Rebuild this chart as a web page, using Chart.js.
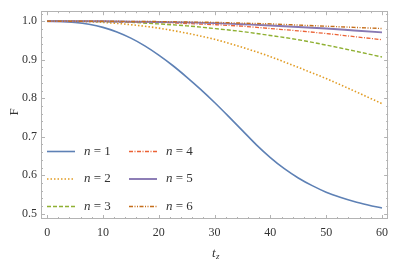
<!DOCTYPE html>
<html>
<head>
<meta charset="utf-8">
<script src="https://cdn.jsdelivr.net/npm/chart.js@4"></script>
<style>
html,body{margin:0;padding:0;background:#fff;}
#wrap{width:395px;height:262px;position:relative;}
</style>
</head>
<body>
<div id="wrap"><canvas id="c" width="395" height="262"></canvas></div>
<script>
// ---- data ----
const tFine = [0, 2.5, 5, 7.5, 10, 12.5, 15, 17.5, 20, 22.5, 25, 27.5, 30, 32.5, 35, 37.5, 40, 42.5, 45, 47.5, 50, 52.5, 55, 57.5, 60];
const n1 = [1.000, 0.9995, 0.997, 0.992, 0.984, 0.972, 0.956, 0.936, 0.912, 0.885, 0.855, 0.823, 0.789, 0.753, 0.716, 0.679, 0.646, 0.617, 0.593, 0.573, 0.556, 0.543, 0.532, 0.523, 0.515];
const tValues = [0, 5, 10, 15, 20, 25, 30, 35, 40, 45, 50, 55, 60];
const n2 = [1.000, 0.9995, 0.997, 0.991, 0.982, 0.969, 0.953, 0.932, 0.908, 0.880, 0.851, 0.819, 0.786];
const n3 = [1.000, 1.000, 0.999, 0.997, 0.993, 0.988, 0.981, 0.973, 0.963, 0.952, 0.938, 0.923, 0.907];
const n4 = [1.000, 1.000, 0.9995, 0.998, 0.997, 0.994, 0.991, 0.987, 0.981, 0.975, 0.968, 0.960, 0.952];
const n5 = [1.000, 1.000, 1.000, 0.999, 0.998, 0.997, 0.995, 0.992, 0.989, 0.985, 0.981, 0.976, 0.971];
const n6 = [1.000, 1.000, 1.000, 0.9995, 0.999, 0.998, 0.997, 0.995, 0.993, 0.990, 0.987, 0.984, 0.981];
const seriesLabels = ["1", "2", "3", "4", "5", "6"];
const xTicks = [0, 10, 20, 30, 40, 50, 60];
const yTicks = [0.5, 0.6, 0.7, 0.8, 0.9, 1.0];

const colors = ["#5E81B5", "#E19C24", "#8FB032", "#EB6235", "#8778B3", "#C56E1A"];
const dashes = [[], [1.5, 2], [4, 2], [4, 1.5, 1, 1.5], [], [4, 1.5, 1, 1.5, 1, 1.5]];
const widths = [1.6, 1.6, 1.4, 1.3, 1.9, 1.4];
const allSeries = [n1, n2, n3, n4, n5, n6];
const allT = [tFine, tValues, tValues, tValues, tValues, tValues];

const datasets = allSeries.map((arr, i) => ({
  label: "n = " + seriesLabels[i],
  data: allT[i].map((t, k) => ({x: t, y: arr[k]})),
  borderColor: colors[i],
  backgroundColor: colors[i],
  borderWidth: widths[i],
  borderDash: dashes[i],
  pointRadius: 0,
  fill: false,
  cubicInterpolationMode: 'monotone',
  order: 6 - i
}));

const serif = "'Liberation Serif', 'DejaVu Serif', serif";

const framePlugin = {
  id: 'frame',
  afterDatasetsDraw(chart) {
    const {ctx, chartArea: a, scales: {x, y}} = chart;
    ctx.save();
    ctx.strokeStyle = '#b3b3b3';
    ctx.lineWidth = 1;
    ctx.strokeRect(Math.round(a.left) + 0.5, Math.round(a.top) + 0.5,
                   Math.round(a.right - a.left) - 1, Math.round(a.bottom - a.top) - 1);
    ctx.beginPath();
    for (let v = 0; v <= 60; v += 2) {
      const px = Math.round(x.getPixelForValue(v)) + 0.5;
      const len = (v % 10 === 0) ? 4 : 2;
      ctx.moveTo(px, a.bottom); ctx.lineTo(px, a.bottom - len);
      ctx.moveTo(px, a.top); ctx.lineTo(px, a.top + len);
    }
    for (let k = 25; k <= 51; k++) {
      const v = k * 0.02;
      const py = Math.round(y.getPixelForValue(v)) + 0.5;
      const len = (k % 5 === 0) ? 4 : 2;
      ctx.moveTo(a.left, py); ctx.lineTo(a.left + len, py);
      ctx.moveTo(a.right, py); ctx.lineTo(a.right - len, py);
    }
    ctx.stroke();

    // legend
    const rows = [151.5, 179, 206.5];
    const cols = [{l: 47, r: 75, tx: 84}, {l: 129, r: 157, tx: 166}];
    for (let i = 0; i < 6; i++) {
      const c = cols[Math.floor(i / 3)], yy = rows[i % 3];
      ctx.beginPath();
      ctx.strokeStyle = colors[i];
      ctx.lineWidth = widths[i];
      ctx.setLineDash(dashes[i]);
      ctx.moveTo(c.l, yy); ctx.lineTo(c.r, yy);
      ctx.stroke();
      ctx.setLineDash([]);
      ctx.fillStyle = '#333';
      ctx.textBaseline = 'middle';
      ctx.textAlign = 'left';
      ctx.font = "italic 13px " + serif;
      ctx.fillText("n", c.tx, yy);
      const w = ctx.measureText("n").width;
      ctx.font = "13px " + serif;
      ctx.fillText(" = " + seriesLabels[i], c.tx + w, yy);
    }

    // axis titles
    ctx.fillStyle = '#333';
    ctx.font = "italic 13px " + serif;
    ctx.textAlign = 'left';
    ctx.textBaseline = 'alphabetic';
    ctx.fillText("t", 212, 257);
    ctx.font = "italic 9px " + serif;
    ctx.fillText("z", 216, 259);
    ctx.save();
    ctx.translate(15, 112);
    ctx.rotate(-Math.PI / 2);
    ctx.font = "13px " + serif;
    ctx.textAlign = 'center';
    ctx.textBaseline = 'middle';
    ctx.fillText("F", 0, 0);
    ctx.restore();
    ctx.restore();
  }
};

new Chart(document.getElementById('c'), {
  type: 'line',
  data: {datasets},
  options: {
    responsive: false,
    animation: false,
    events: [],
    layout: {padding: {left: 0, right: 1, top: 1, bottom: 0}},
    plugins: {legend: {display: false}, tooltip: {enabled: false}},
    scales: {
      x: {
        type: 'linear', min: -1.1, max: 61.1,
        afterFit(s) { s.height = 43; },
        afterBuildTicks(s) { s.ticks = xTicks.map(v => ({value: v})); },
        grid: {display: false, drawTicks: false},
        border: {display: false},
        ticks: {padding: 7, color: '#333', font: {family: serif, size: 12},
                maxRotation: 0, autoSkip: false, callback: v => String(v)}
      },
      y: {
        type: 'linear', min: 0.4864, max: 1.026,
        afterFit(s) { s.width = 41; },
        afterBuildTicks(s) { s.ticks = yTicks.map(v => ({value: v})); },
        grid: {display: false, drawTicks: false},
        border: {display: false},
        ticks: {padding: 4, color: '#333', font: {family: serif, size: 12},
                autoSkip: false, callback: v => v.toFixed(1)}
      }
    }
  },
  plugins: [framePlugin]
});
</script>
</body>
</html>
